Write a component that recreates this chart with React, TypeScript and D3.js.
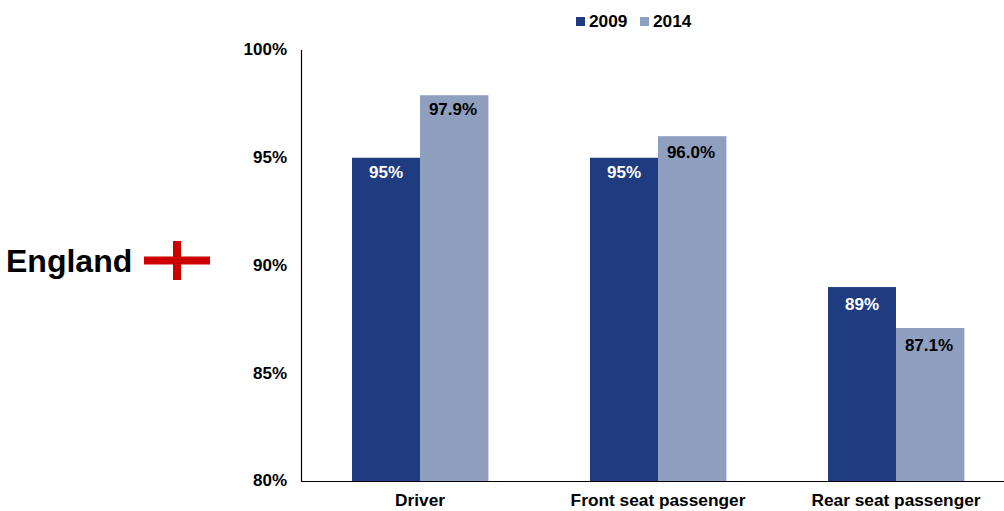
import React, { useEffect, useRef } from 'react';
import * as d3 from 'd3';

const categories = ['Driver', 'Front seat passenger', 'Rear seat passenger'];
const years = ['2009', '2014'];
const values2009 = [95, 95, 89];
const values2014 = [97.9, 96.0, 87.1];
const labels2009 = ['95%', '95%', '89%'];
const labels2014 = ['97.9%', '96.0%', '87.1%'];
const yTicks = [80, 85, 90, 95, 100];

const WIDTH = 1004;
const HEIGHT = 511;
const FONT = '"Liberation Sans", Arial, sans-serif';
const DARK = '#1f3c81';
const LIGHT = '#8f9fc0';

export default function App() {
  const root = useRef<SVGSVGElement>(null);

  useEffect(() => {
    const svg = d3.select(root.current);
    svg.selectAll('*').remove();

    const x0 = d3.scaleBand().domain(categories).range([301, 1015]).paddingInner(102 / 238).paddingOuter(51 / 238);
    const x1 = d3.scaleBand().domain(years).range([0, x0.bandwidth()]);
    const y = d3.scaleLinear().domain([80, 100]).range([481, 50]);
    const colour = d3.scaleOrdinal<string>().domain(years).range([DARK, LIGHT]);

    // dy is how far each value label baseline sits below its bar top
    const series = [
      { year: '2009', values: values2009, labels: labels2009, text: '#fff', dy: [20, 20, 23], dx: 0 },
      { year: '2014', values: values2014, labels: labels2014, text: '#000', dy: [20, 22, 23], dx: -1 }
    ];

    // Bars and the value labels just inside their tops
    series.forEach((s) => {
      const g = svg.append('g');
      g.selectAll('rect')
        .data(categories)
        .enter().append('rect')
        .attr('x', (c) => x0(c)! + x1(s.year)!)
        .attr('y', (c, i) => y(s.values[i]))
        .attr('width', x1.bandwidth() + (s.year === '2014' ? 0.4 : 0))
        .attr('height', (c, i) => y(80) - y(s.values[i]))
        .attr('fill', colour(s.year));

      g.selectAll('text')
        .data(categories)
        .enter().append('text')
        .attr('x', (c) => x0(c)! + x1(s.year)! + x1.bandwidth() / 2 + s.dx)
        .attr('y', (c, i) => y(s.values[i]) + s.dy[i])
        .attr('text-anchor', 'middle')
        .attr('font-family', FONT)
        .attr('font-weight', 'bold')
        .attr('font-size', 17)
        .attr('fill', s.text)
        .text((c, i) => s.labels[i]);
    });

    // Axes
    const yAxis = svg.append('g')
      .attr('transform', 'translate(301.5, 0)')
      .call(d3.axisLeft(y).offset(0).tickValues(yTicks).tickFormat((d) => `${d}%`).tickSize(0).tickPadding(14.5));
    const xAxis = svg.append('g')
      .attr('transform', 'translate(0, 481.5)')
      .call(d3.axisBottom(x0).offset(0).tickSize(0).tickPadding(12.5));

    [yAxis, xAxis].forEach((a) => {
      a.attr('font-family', FONT).attr('font-weight', 'bold');
      a.selectAll('text').attr('fill', '#000');
      a.select('.domain').attr('stroke', '#000').attr('stroke-width', 1.2);
    });
    yAxis.attr('font-size', 17);
    xAxis.attr('font-size', 17.3);

    // Legend
    const legend = svg.append('g');
    years.forEach((yr, i) => {
      const lx = 576 + i * 64;
      legend.append('rect').attr('x', lx).attr('y', 17).attr('width', 9).attr('height', 9).attr('fill', colour(yr));
      legend.append('text')
        .attr('x', lx + 13)
        .attr('y', 27)
        .attr('font-family', FONT)
        .attr('font-weight', 'bold')
        .attr('font-size', 17.3)
        .text(yr);
    });

    // England label with the cross
    svg.append('text')
      .attr('x', 6)
      .attr('y', 272)
      .attr('font-family', FONT)
      .attr('font-weight', 'bold')
      .attr('font-size', 32)
      .text('England');
    svg.append('rect').attr('x', 144).attr('y', 256.5).attr('width', 66).attr('height', 8).attr('fill', '#cc0000');
    svg.append('rect').attr('x', 173).attr('y', 241).attr('width', 8).attr('height', 39).attr('fill', '#cc0000');
  }, []);

  return (
    <svg
      ref={root}
      width={WIDTH}
      height={HEIGHT}
      style={{ position: 'absolute', left: 0, top: 0, background: '#fff' }}
    />
  );
}
